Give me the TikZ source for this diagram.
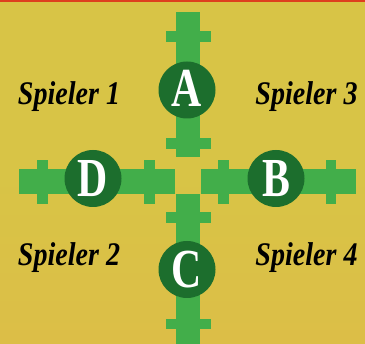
\documentclass[tikz,border=0pt]{standalone}
\usepackage{fontspec}
\usepackage{graphicx}
\setmainfont{Liberation Serif}
\definecolor{bgyellow}{HTML}{D8C446}
\definecolor{bgbottom}{HTML}{DCBE47}
\definecolor{bargreen}{HTML}{42AE4A}
\definecolor{dotgreen}{HTML}{1C6E2D}
\definecolor{topred}{HTML}{DE3F1E}
\tikzset{
  bar/.style={fill=bargreen, draw=none},
  spot/.style={circle, fill=dotgreen, draw=none, minimum size=57pt, inner sep=0pt, text=white,
    font=\fontsize{55}{55}\selectfont\bfseries},
  player/.style={anchor=base, inner sep=0pt, text=black,
    font=\fontsize{33}{38}\selectfont\bfseries\itshape}
}
\newcommand{\narrowtxt}[1]{\scalebox{0.76}[1]{#1}}
\newcommand{\plname}[1]{\scalebox{0.85}[1]{#1}}
\begin{document}
\begin{tikzpicture}[x=1pt,y=-1pt]
\useasboundingbox (0,0) rectangle (365,344);
% background
\shade[top color=bgyellow, bottom color=bgbottom, middle color=bgyellow] (0,0) rectangle (365,344);
\fill[topred] (0,0.4) rectangle (365,2.2);
% top vertical arm
\fill[bar] (176,12) rectangle (200,157);
\fill[bar] (166,31) rectangle (211,42);
\fill[bar] (166,138) rectangle (211,149);
% bottom vertical arm
\fill[bar] (176,194) rectangle (200,344);
\fill[bar] (166,212) rectangle (211,223);
\fill[bar] (166,319) rectangle (211,329);
% left horizontal arm
\fill[bar] (19,169) rectangle (175,194);
\fill[bar] (37,160) rectangle (48,204);
\fill[bar] (144,160) rectangle (155,204);
% right horizontal arm
\fill[bar] (201,169) rectangle (356,194);
\fill[bar] (218,160) rectangle (229,204);
\fill[bar] (326,160) rectangle (336,204);
% spots
\node[spot] (A) at (187,90) {\raisebox{3pt}{\narrowtxt{A}}};
\node[spot] (D) at (93,178.5) {\narrowtxt{D}};
\node[spot] (B) at (276,178.5) {\narrowtxt{B}};
\node[spot] (C) at (187,269.5) {\narrowtxt{C}};
% players
\node[player] (p1) at (69,105) {\plname{Spieler 1}};
\node[player] (p3) at (306.5,105) {\plname{Spieler 3}};
\node[player] (p2) at (69,266) {\plname{Spieler 2}};
\node[player] (p4) at (306.5,266) {\plname{Spieler 4}};
\end{tikzpicture}
\end{document}
